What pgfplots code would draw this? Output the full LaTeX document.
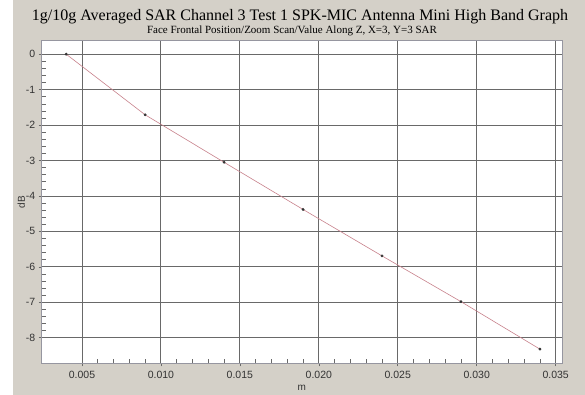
\documentclass[border=0pt]{standalone}
\usepackage{fontspec}
\setmainfont{Liberation Serif}
\newfontfamily\arial{Liberation Sans}
\usepackage{pgfplots}
\pgfplotsset{compat=1.18}
\definecolor{panel}{RGB}{212,208,200}
\definecolor{gridc}{RGB}{105,105,105}
\definecolor{framec}{RGB}{150,150,160}
\definecolor{linec}{RGB}{200,130,140}
\begin{document}
\begin{tikzpicture}[x=1pt,y=1pt]
\fill[white] (0,0) rectangle (585,395);
\fill[panel] (13,0) rectangle (585,395);
\useasboundingbox (0,0) rectangle (585,395);
\node[anchor=base,inner sep=0pt,font=\fontsize{16}{18}\selectfont] at (300,374) {1g/10g Averaged SAR Channel 3 Test 1 SPK-MIC Antenna Mini High Band Graph};
\node[anchor=base,inner sep=0pt,font=\fontsize{11}{12}\selectfont] at (292,361) {Face Frontal Position/Zoom Scan/Value Along Z, X=3, Y=3 SAR};
\begin{axis}[
  at={(41.7pt,31.7pt)}, anchor=south west,
  scale only axis, width=520.3pt, height=322.6pt,
  xmin=0.00245, xmax=0.0354, ymin=-8.72, ymax=0.38,
  scaled x ticks=false,
  axis background/.style={fill=white},
  axis line style={framec, line width=0.8pt},
  xtick={0.005,0.010,0.015,0.020,0.025,0.030,0.035},
  xticklabels={0.005,0.010,0.015,0.020,0.025,0.030,0.035},
  ytick={0,-1,-2,-3,-4,-5,-6,-7,-8},
  yticklabels={0,-1,-2,-3,-4,-5,-6,-7,-8},
  minor x tick num=4, minor y tick num=4,
  tick pos=left, tick align=outside,
  major tick length=3pt, minor tick length=4pt,
  tick style={gridc, line width=0.6pt},
  minor x tick style={yshift=4pt},
  minor y tick style={xshift=4pt},
  xmajorgrids, ymajorgrids,
  major grid style={gridc, line width=0.9pt},
  ticklabel style={font=\arial\fontsize{10.5}{12}\selectfont, text=black!80},
  xticklabel style={yshift=-1pt},
  xlabel={m}, ylabel={dB},
  label style={font=\arial\fontsize{10}{12}\selectfont, text=black!80},
  xlabel style={yshift=0pt},
  ylabel style={yshift=-6pt},
]
\addplot[linec, line width=0.6pt, mark=*, mark size=1.1pt, mark options={fill=black!80, draw=black!80}] coordinates {
(0.004,0) (0.009,-1.71) (0.014,-3.05) (0.019,-4.38) (0.024,-5.69) (0.029,-6.98) (0.034,-8.32)
};
\end{axis}
\end{tikzpicture}
\end{document}
